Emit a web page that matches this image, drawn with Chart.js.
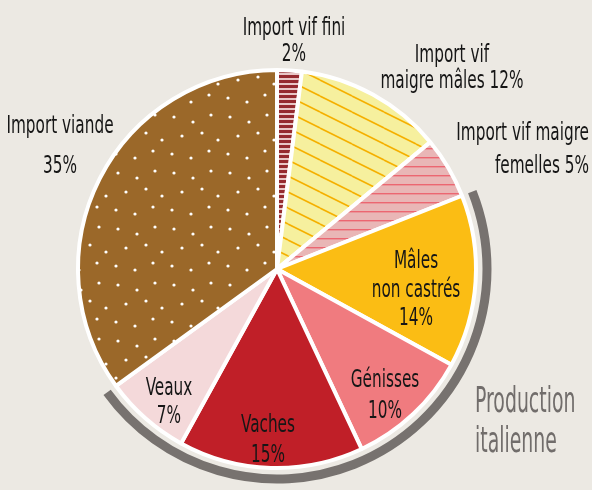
<!DOCTYPE html>
<html>
<head>
<meta charset="utf-8">
<script src="https://cdn.jsdelivr.net/npm/chart.js@4.4.1/dist/chart.umd.min.js"></script>
<style>
html, body { margin: 0; padding: 0; background: #ece9e3; }
#wrap { width: 592px; height: 490px; }
</style>
</head>
<body>
<div id="wrap"><canvas id="pieChart" width="592" height="490"></canvas></div>
<script>
// data
const categories = ['Import vif fini', 'Import vif\nmaigre mâles', 'Import vif maigre\nfemelles', 'Mâles\nnon castrés', 'Génisses', 'Vaches', 'Veaux', 'Import viande'];
const shares = [2, 12, 5, 14, 10, 15, 7, 35];
const pctSameLine = [false, true, true, false, false, false, false, false];
const groupLabel = ['Production', 'italienne'];
const groupFrom = 3, groupTo = 6; // Mâles non castrés .. Veaux

//################ label placement (offsets from pie centre) ################
const labelPos = [
    {dx: 17,   dy: -234, lh: 26,   align: 'center'},
    {dx: 175,  dy: -207, lh: 25.5, align: 'center'},
    {dx: 312,  dy: -129, lh: 32.5, align: 'right'},
    {dx: 139,  dy: -1,   lh: 28.5, align: 'center'},
    {dx: 108,  dy: 118,  lh: 31,   align: 'center'},
    {dx: -9,   dy: 163,  lh: 30,   align: 'center'},
    {dx: -108, dy: 126,  lh: 27.7, align: 'center'},
    {dx: -217, dy: -136, lh: 40,   align: 'center'}
];
const groupPos = {dx: 198, dy: 143, lh: 40, align: 'left'};

const FONT = '"DejaVu Sans Condensed", "DejaVu Sans", sans-serif';

//################ fill patterns #############################
function makePattern(w, h, draw) {
    const c = document.createElement('canvas');
    c.width = w;
    c.height = h;
    const g = c.getContext('2d');
    draw(g, w, h);
    return g.createPattern(c, 'repeat');
}

const finiFill = makePattern(8, 5, function(g, w, h) {
    g.fillStyle = '#e8c6c6';
    g.fillRect(0, 0, w, h);
    g.fillStyle = '#962a2f';
    g.fillRect(0, 0, w, 3);
});

const malesFill = makePattern(32, 16, function(g, w, h) {
    g.fillStyle = '#f6f09e';
    g.fillRect(0, 0, w, h);
    g.strokeStyle = '#f5b000';
    g.lineWidth = 1.6;
    for (let k = -1; k <= 1; k++) {
        g.beginPath();
        g.moveTo(0, k * h);
        g.lineTo(w, k * h + h);
        g.stroke();
    }
});

const femellesFill = makePattern(8, 9, function(g, w, h) {
    g.fillStyle = '#e9b6b6';
    g.fillRect(0, 0, w, h);
    g.fillStyle = '#ec6671';
    g.fillRect(0, 4, w, 1.4);
});

// white dots on brown, hand placed in a 56px tile
const dotSpots = [[6,5],[25,10],[43,3],[14,24],[34,21],[50,28],[4,42],[23,46],[41,39]];
const viandeFill = makePattern(56, 56, function(g, w, h) {
    g.fillStyle = '#9b6829';
    g.fillRect(0, 0, w, h);
    g.fillStyle = '#ffffff';
    dotSpots.forEach(function(p) {
        g.beginPath();
        g.arc(p[0], p[1], 1.6, 0, Math.PI * 2);
        g.fill();
    });
});

const sliceFills = [finiFill, malesFill, femellesFill, '#fbbd14', '#f07b7f', '#c01f28', '#f4d9da', viandeFill];

//################ labels + bracket plugin #############################
function drawLines(ctx, lines, x, y, pos, size, sx, color) {
    ctx.fillStyle = color;
    ctx.font = size + 'px ' + FONT;
    ctx.textAlign = pos.align;
    ctx.textBaseline = 'alphabetic';
    lines.forEach(function(t, i) {
        ctx.save();
        ctx.translate(x, y + i * pos.lh);
        ctx.scale(sx, 1);
        ctx.fillText(t, 0, 0);
        ctx.restore();
    });
}

const pieExtras = {
    id: 'pieExtras',
    afterDatasetsDraw: function(chart) {
        const ctx = chart.ctx;
        const arcs = chart.getDatasetMeta(0).data;
        const cx = arcs[0].x, cy = arcs[0].y, R = arcs[0].outerRadius;

        // grey bracket round the italian production slices
        ctx.save();
        ctx.strokeStyle = '#77726f';
        ctx.lineWidth = 9;
        ctx.beginPath();
        ctx.arc(cx, cy, R + 11, arcs[groupFrom].startAngle, arcs[groupTo].endAngle);
        ctx.stroke();
        ctx.restore();

        categories.forEach(function(name, i) {
            let lines = name.split('\n');
            if (pctSameLine[i]) {
                lines[lines.length - 1] += ' ' + shares[i] + '%';
            } else {
                lines.push(shares[i] + '%');
            }
            const p = labelPos[i];
            drawLines(ctx, lines, cx + p.dx, cy + p.dy, p, 25, 0.68, '#161616');
        });

        drawLines(ctx, groupLabel, cx + groupPos.dx, cy + groupPos.dy, groupPos, 35, 0.6, '#716d6b');
    }
};

//################ chart #############################
const ctx = document.getElementById('pieChart').getContext('2d');
const pieChart = new Chart(ctx, {
    type: 'pie',
    data: {
        labels: categories,
        datasets: [{
            data: shares,
            backgroundColor: sliceFills,
            borderColor: '#ffffff',
            borderWidth: 4
        }]
    },
    options: {
        responsive: false,
        animation: false,
        layout: {
            padding: {left: 76, right: 114, top: 68, bottom: 20}
        },
        plugins: {
            legend: { display: false },
            tooltip: { enabled: false }
        }
    },
    plugins: [pieExtras]
});
</script>
</body>
</html>
